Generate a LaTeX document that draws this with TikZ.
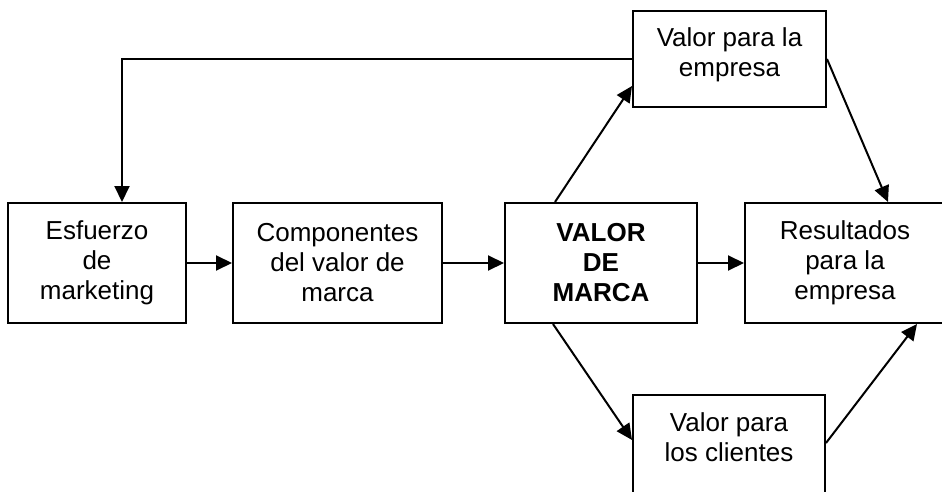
\documentclass[tikz,border=0pt]{standalone}
\usepackage{fontspec}
\setmainfont{Liberation Sans}
\usetikzlibrary{arrows.meta}

\tikzset{
  caja/.style={draw, line width=2pt, inner sep=0pt, align=center,
    font=\fontsize{26}{30}\selectfont},
  flecha/.style={line width=2pt, -{Triangle[length=16pt,width=15pt]}}
}

\begin{document}
\begin{tikzpicture}[x=1pt,y=-1pt]
        \useasboundingbox (0,0) rectangle (942,492);
        \clip (0,0) rectangle (942,492);
        % fila central
        \node[caja, minimum width=178pt, minimum height=120pt] (esfuerzo) at (97,263) {Esfuerzo\\de\\marketing};
        \node[caja, minimum width=209pt, minimum height=120pt] (componentes) at (337.5,263) {Componentes\\del valor de\\marca};
        \node[caja, minimum width=192pt, minimum height=120pt, font=\fontsize{26}{30}\selectfont\bfseries] (valor) at (601,263) {VALOR\\DE\\MARCA};
        \node[caja, minimum width=200pt, minimum height=120pt] (resultados) at (845,263) {Resultados\\para la\\empresa};
        % arriba y abajo
        \node[caja, minimum width=193pt, minimum height=96pt] (empresa) at (729.5,59)
            {\begin{tabular}{@{}c@{}}Valor para la\\empresa\\[6pt]\end{tabular}};
        \node[caja, minimum width=192pt, minimum height=100pt] (clientes) at (729,445)
            {\begin{tabular}{@{}c@{}}Valor para\\los clientes\\[10pt]\end{tabular}};

        \coordinate (codo) at (122,59);
        \draw[flecha] (empresa.west) -- (codo) -- (codo |- esfuerzo.north);
        \draw[flecha] (esfuerzo) -- (componentes);
        \draw[flecha] (componentes) -- (valor);
        \draw[flecha] (valor) -- (resultados);
        \draw[flecha] ([xshift=-46pt]valor.north) -- ([yshift=22pt]empresa.south west);
        \draw[flecha] (empresa.east) -- ([xshift=43pt]resultados.north);
        \draw[flecha] ([xshift=-48pt]valor.south) -- ([yshift=5pt]clientes.west);
        \draw[flecha] ([yshift=2pt]clientes.east) -- ([xshift=72pt]resultados.south);
\end{tikzpicture}
\end{document}
